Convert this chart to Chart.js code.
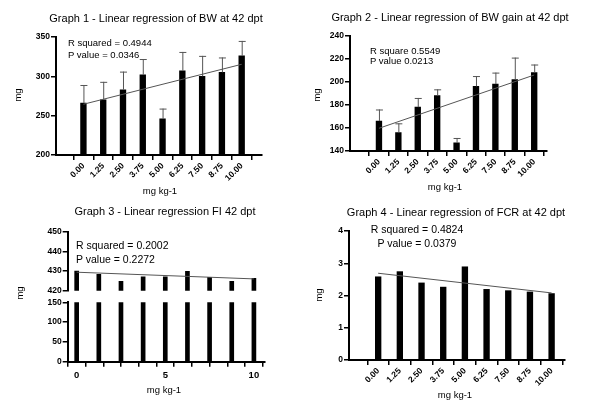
<!DOCTYPE html>
<html>
<head>
<meta charset="utf-8">
<script src="https://cdn.jsdelivr.net/npm/chart.js@4.4.1/dist/chart.umd.min.js"></script>
<style>
  html,body{margin:0;padding:0;background:#fff;}
  #wrap{position:relative;width:600px;height:419px;overflow:hidden;font-family:'Liberation Sans',Arial,Helvetica,sans-serif;color:#000;}
  canvas{position:absolute;left:0;top:0;}
  .t{position:absolute;white-space:nowrap;transform:translate(-50%,-50%);line-height:1;}
  .l{position:absolute;white-space:nowrap;transform:translate(0,-50%);line-height:1;}
  .ttl{font-size:11px;}
  .ax{font-size:9.5px;}
  .rot{transform:translate(-50%,-50%) rotate(-90deg);}
</style>
</head>
<body>
<div id="wrap">
  <canvas id="c1" width="600" height="419"></canvas>
  <canvas id="c2" width="600" height="419"></canvas>
  <canvas id="c3a" width="600" height="419"></canvas>
  <canvas id="c3b" width="600" height="419"></canvas>
  <canvas id="c4" width="600" height="419"></canvas>

  <div class="t ttl" style="left:156px;top:18px;">Graph 1 - Linear regression of BW at 42 dpt</div>
  <div class="t ttl" style="left:450px;top:17px;">Graph 2 - Linear regression of BW gain at 42 dpt</div>
  <div class="t ttl" style="left:165px;top:211px;">Graph 3 - Linear regression FI 42 dpt</div>
  <div class="t ttl" style="left:456px;top:212px;">Graph 4 - Linear regression of FCR at 42 dpt</div>

  <div class="l ax" style="left:68px;top:43px;">R squared = 0.4944</div>
  <div class="l ax" style="left:68px;top:55px;">P value = 0.0346</div>
  <div class="l ax" style="left:370px;top:51px;">R square 0.5549</div>
  <div class="l ax" style="left:370px;top:61px;">P value 0.0213</div>
  <div class="l ax" style="left:76px;top:245px;font-size:10.5px;">R squared = 0.2002</div>
  <div class="l ax" style="left:76px;top:259px;font-size:10.5px;">P value = 0.2272</div>
  <div class="t ax" style="left:417px;top:229px;font-size:10.5px;">R squared = 0.4824</div>
  <div class="t ax" style="left:417px;top:243px;font-size:10.5px;">P value = 0.0379</div>

  <div class="t ax" style="left:160px;top:191px;">mg kg-1</div>
  <div class="t ax" style="left:445px;top:187px;">mg kg-1</div>
  <div class="t ax" style="left:164px;top:390px;">mg kg-1</div>
  <div class="t ax" style="left:455px;top:395px;">mg kg-1</div>

  <div class="t ax rot" style="left:18px;top:95px;">mg</div>
  <div class="t ax rot" style="left:317px;top:95px;">mg</div>
  <div class="t ax rot" style="left:20px;top:293px;">mg</div>
  <div class="t ax rot" style="left:319px;top:295px;">mg</div>
</div>
<script>
// ---- data ----
const doses = [0, 1.25, 2.5, 3.75, 5, 6.25, 7.5, 8.75, 10];
const fitX = [0, 10];

const bwMean = [266, 270, 283, 302, 246, 307, 300, 305, 326];
const bwSD   = [23, 23, 23, 20, 13, 24, 26, 19, 19];
const bwFit  = [264.5, 315.3];
const bwTicks = [200, 250, 300, 350];

const gainMean = [166, 156, 178, 188, 147, 196, 198, 202, 208];
const gainSD   = [10, 8, 8, 5.5, 4.3, 9, 10, 19, 7];
const gainFit  = [159.7, 205.9];
const gainTicks = [140, 160, 180, 200, 220, 240];

const fiMean = [430, 428.3, 424.8, 427.1, 427.1, 429.9, 426.8, 424.8, 426.3];
const fiFit  = [429.4, 426];
const fiTicksTop = [420, 430, 440, 450];
const fiTicksBottom = [0, 50, 100, 150];
const fiXTicks = [0, 1, 2, 3, 4, 5, 6, 7, 8, 9, 10];

const fcrMean = [2.58, 2.74, 2.39, 2.26, 2.89, 2.19, 2.15, 2.11, 2.06];
const fcrFit  = [2.69, 2.08];
const fcrTicks = [0, 1, 2, 3, 4];

// ---- helpers ----
const FONT = "'Liberation Sans', Arial, Helvetica, sans-serif";
const YW = 40, XH = 50;

const errPlugin = {
  id: 'errbars',
  afterDatasetsDraw(chart, args, opts) {
    if (!opts || !opts.sd) return;
    const xs = chart.scales.x, ys = chart.scales.y, ctx = chart.ctx;
    ctx.save();
    ctx.strokeStyle = '#555';
    ctx.lineWidth = 1;
    opts.mean.forEach((m, i) => {
      const x = xs.getPixelForValue(opts.x[i]);
      const y0 = ys.getPixelForValue(m);
      const y1 = ys.getPixelForValue(m + opts.sd[i]);
      ctx.beginPath();
      ctx.moveTo(x + 0.5, y0);
      ctx.lineTo(x + 0.5, y1);
      ctx.moveTo(x - 3, y1 + 0.5);
      ctx.lineTo(x + 4, y1 + 0.5);
      ctx.stroke();
    });
    ctx.restore();
  }
};

function pts(xs, ys) { return xs.map((x, i) => ({x: x, y: ys[i]})); }

function makeChart(id, c) {
  const showX = c.showX !== false;
  const datasets = [{
    type: 'bar',
    data: pts(doses, c.mean),
    backgroundColor: '#000',
    borderWidth: 0,
    barThickness: c.barW || 5.7,
    order: 1,
    clip: {left: 6, right: 6, top: 0, bottom: 0}
  }];
  if (c.fit) {
    datasets.push({
      type: 'line',
      data: pts(fitX, c.fit),
      borderColor: '#555',
      borderWidth: 1,
      pointRadius: 0,
      fill: false,
      order: 0,
      clip: false
    });
  }
  const xTickVals = c.xTicks;
  const xh = showX ? XH : 0;
  return new Chart(document.getElementById(id), {
    type: 'bar',
    data: { datasets },
    plugins: [errPlugin],
    options: {
      responsive: false,
      animation: false,
      devicePixelRatio: 1,
      layout: {
        padding: {
          left: c.l - YW,
          top: c.t,
          right: 600 - c.r,
          bottom: 419 - c.b - xh
        }
      },
      plugins: {
        legend: {display: false},
        tooltip: {enabled: false},
        errbars: c.sd ? {sd: c.sd, mean: c.mean, x: doses} : {}
      },
      scales: {
        x: {
          type: 'linear',
          display: showX,
          min: c.xmin, max: c.xmax,
          afterFit(s) { s.height = xh; },
          afterBuildTicks(s) { s.ticks = xTickVals.map(v => ({value: v})); },
          grid: {display: true, drawOnChartArea: false, drawTicks: true, tickLength: 5, color: '#000', lineWidth: 1.5},
          border: {display: true, color: '#000', width: 2},
          ticks: {
            autoSkip: false,
            minRotation: c.rot, maxRotation: c.rot,
            padding: c.rot ? 1 : 3,
            color: '#000',
            font: {family: FONT, size: c.rot ? 8.5 : 9.5, weight: 'bold'},
            callback: c.xFmt
          }
        },
        y: {
          type: 'linear',
          min: c.ymin, max: c.ymax,
          afterFit(s) { s.width = YW; },
          afterBuildTicks(s) { s.ticks = c.yTicks.map(v => ({value: v})); },
          grid: {display: true, drawOnChartArea: false, drawTicks: true, tickLength: 5, color: '#000', lineWidth: 1.5},
          border: {display: true, color: '#000', width: 2},
          ticks: {
            padding: 1,
            color: '#000',
            font: {family: FONT, size: 8.5, weight: 'bold'},
            callback: v => String(v)
          }
        }
      }
    }
  });
}

const fmt2 = v => Number(v).toFixed(2);

makeChart('c1', {l: 56, t: 37, r: 262, b: 155, xmin: -1.01, xmax: 10.56,
  ymin: 200, ymax: 350, yTicks: bwTicks, xTicks: doses, rot: 45, xFmt: fmt2,
  mean: bwMean, sd: bwSD, fit: bwFit});

makeChart('c2', {l: 350, t: 35.7, r: 547, b: 151, xmin: -1.16, xmax: 10.12,
  ymin: 140, ymax: 240, yTicks: gainTicks, xTicks: doses, rot: 45, xFmt: fmt2,
  mean: gainMean, sd: gainSD, fit: gainFit});

makeChart('c3a', {l: 67.7, t: 231.7, r: 265, b: 290.7, xmin: 0, xmax: 10.12,
  ymin: 420, ymax: 450, yTicks: fiTicksTop, xTicks: fiXTicks, rot: 0, showX: false,
  xFmt: v => (v % 5 === 0 ? String(v) : ''), barW: 4,
  mean: fiMean, fit: fiFit});

makeChart('c3b', {l: 67.7, t: 302.3, r: 265, b: 361.7, xmin: 0, xmax: 10.12,
  ymin: 0, ymax: 150, yTicks: fiTicksBottom, xTicks: fiXTicks, rot: 0,
  xFmt: v => (v % 5 === 0 ? String(v) : ''), barW: 4,
  mean: fiMean});

makeChart('c4', {l: 349, t: 231, r: 565, b: 360, xmin: -0.99, xmax: 10.08,
  ymin: 0, ymax: 4, yTicks: fcrTicks, xTicks: doses, rot: 45, xFmt: fmt2,
  mean: fcrMean, fit: fcrFit});
</script>
</body>
</html>
